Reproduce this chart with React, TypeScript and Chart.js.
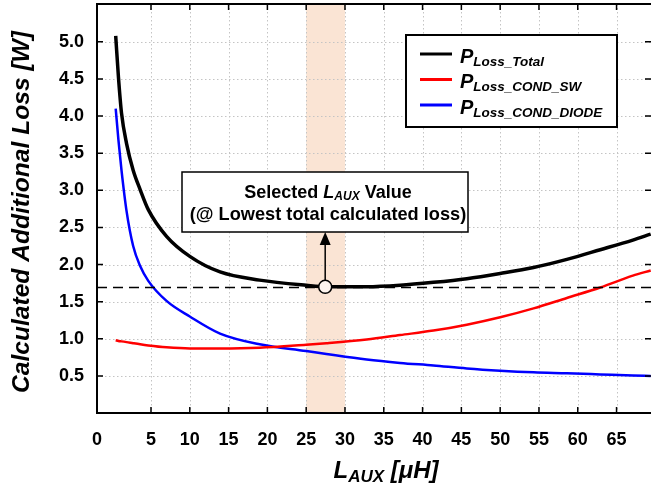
import React, { useEffect, useRef } from "react";
import { Chart, registerables } from "chart.js";

Chart.register(...registerables);

// ---------- data ----------
const L_AUX = [0.45, 0.8, 1.2, 1.85, 2.7, 3.6, 4.65, 7, 10, 13.9, 19, 25, 27.6, 32.8, 37.1, 41.4, 45.7, 50, 54.3, 58.6, 62.9, 67.1, 69.4];
const P_LOSS_TOTAL = [5.08, 4.53, 4.04, 3.63, 3.27, 3.01, 2.74, 2.38, 2.11, 1.9, 1.79, 1.72, 1.7, 1.7, 1.72, 1.76, 1.81, 1.88, 1.96, 2.07, 2.2, 2.33, 2.41];
const P_LOSS_COND_SW = [0.98, 0.97, 0.965, 0.955, 0.94, 0.925, 0.91, 0.885, 0.87, 0.87, 0.88, 0.92, 0.94, 0.99, 1.05, 1.11, 1.19, 1.29, 1.41, 1.55, 1.69, 1.85, 1.92];
const P_LOSS_COND_DIODE = [4.1, 3.68, 3.27, 2.72, 2.25, 1.98, 1.78, 1.51, 1.3, 1.07, 0.925, 0.835, 0.795, 0.72, 0.675, 0.64, 0.6, 0.57, 0.548, 0.535, 0.52, 0.505, 0.5];

const X_TICKS = [0, 5, 10, 15, 20, 25, 30, 35, 40, 45, 50, 55, 60, 65];
const Y_TICKS = [0.5, 1.0, 1.5, 2.0, 2.5, 3.0, 3.5, 4.0, 4.5, 5.0];
const X_MIN = -1.96;
const X_MAX = 69.44;
const Y_MIN = 0;
const Y_MAX = 5.51;

const SELECTED_BAND = [25, 30];
const SELECTED_L = 27.45;
const SELECTED_LOSS = 1.7;
const DASH_LEVEL = 1.69;

const FONT = '"Liberation Sans", Arial, Helvetica, sans-serif';

type Part = { t: string; size: number; italic?: boolean; dy?: number };

function fontOf(p: Part) {
  return `${p.italic ? "italic " : ""}bold ${p.size}px ${FONT}`;
}

function drawParts(ctx: CanvasRenderingContext2D, parts: Part[], x: number, y: number, align: "left" | "center") {
  let total = 0;
  for (const p of parts) {
    ctx.font = fontOf(p);
    total += ctx.measureText(p.t).width;
  }
  let cx = align === "center" ? x - total / 2 : x;
  ctx.textAlign = "left";
  ctx.textBaseline = "alphabetic";
  for (const p of parts) {
    ctx.font = fontOf(p);
    ctx.fillText(p.t, cx, y + (p.dy || 0));
    cx += ctx.measureText(p.t).width;
  }
}

const decorPlugin = {
  id: "decor",
  beforeDatasetsDraw(chart: any) {
    const ctx: CanvasRenderingContext2D = chart.ctx;
    const { left, right, top, bottom } = chart.chartArea;
    const xs = chart.scales.x;
    const ys = chart.scales.y;
    ctx.save();
    // selected band
    const b0 = xs.getPixelForValue(SELECTED_BAND[0]);
    const b1 = xs.getPixelForValue(SELECTED_BAND[1]);
    ctx.fillStyle = "#fae4d4";
    ctx.fillRect(b0, top, b1 - b0, bottom - top);
    // dotted grid
    ctx.strokeStyle = "#c4c4c4";
    ctx.lineWidth = 1;
    ctx.setLineDash([1.5, 2.5]);
    for (const v of X_TICKS) {
      if (v <= 0) continue;
      const px = Math.round(xs.getPixelForValue(v)) + 0.5;
      ctx.beginPath();
      ctx.moveTo(px, top);
      ctx.lineTo(px, bottom);
      ctx.stroke();
    }
    for (const v of Y_TICKS) {
      const py = Math.round(ys.getPixelForValue(v)) + 0.5;
      ctx.beginPath();
      ctx.moveTo(left, py);
      ctx.lineTo(right, py);
      ctx.stroke();
    }
    ctx.restore();
  },
  afterDatasetsDraw(chart: any) {
    const ctx: CanvasRenderingContext2D = chart.ctx;
    const { left, right, top, bottom } = chart.chartArea;
    const xs = chart.scales.x;
    const ys = chart.scales.y;
    ctx.save();

    // dashed minimum level
    const dy = ys.getPixelForValue(DASH_LEVEL);
    ctx.strokeStyle = "#000";
    ctx.lineWidth = 1.5;
    ctx.setLineDash([10, 6]);
    ctx.beginPath();
    ctx.moveTo(left, dy);
    ctx.lineTo(right, dy);
    ctx.stroke();
    ctx.setLineDash([]);

    // frame
    ctx.lineWidth = 2;
    ctx.beginPath();
    ctx.moveTo(right + 2, top);
    ctx.lineTo(left, top);
    ctx.lineTo(left, bottom);
    ctx.lineTo(right + 2, bottom);
    ctx.stroke();

    // inward ticks
    ctx.lineWidth = 1.5;
    for (const v of X_TICKS) {
      if (v <= 0) continue;
      const px = xs.getPixelForValue(v);
      ctx.beginPath();
      ctx.moveTo(px, top);
      ctx.lineTo(px, top + 6);
      ctx.moveTo(px, bottom);
      ctx.lineTo(px, bottom - 6);
      ctx.stroke();
    }
    for (const v of Y_TICKS) {
      const py = ys.getPixelForValue(v);
      ctx.beginPath();
      ctx.moveTo(left, py);
      ctx.lineTo(left + 6, py);
      ctx.moveTo(right, py);
      ctx.lineTo(right - 6, py);
      ctx.stroke();
    }

    // selected point marker + arrow
    const cx = xs.getPixelForValue(SELECTED_L);
    const cy = ys.getPixelForValue(SELECTED_LOSS);
    const r = 6.5;
    const boxL = 182, boxR = 468, boxT = 172, boxB = 232;
    ctx.lineWidth = 1.5;
    ctx.beginPath();
    ctx.moveTo(cx, cy - r);
    ctx.lineTo(cx, boxB + 12);
    ctx.stroke();
    ctx.fillStyle = "#000";
    ctx.beginPath();
    ctx.moveTo(cx, boxB);
    ctx.lineTo(cx - 5.5, boxB + 13);
    ctx.lineTo(cx + 5.5, boxB + 13);
    ctx.closePath();
    ctx.fill();
    ctx.fillStyle = "#fdf4ee";
    ctx.beginPath();
    ctx.arc(cx, cy, r, 0, Math.PI * 2);
    ctx.fill();
    ctx.stroke();

    // annotation box
    ctx.fillStyle = "#fff";
    ctx.fillRect(boxL, boxT, boxR - boxL, boxB - boxT);
    ctx.lineWidth = 1.5;
    ctx.strokeRect(boxL, boxT, boxR - boxL, boxB - boxT);
    ctx.fillStyle = "#000";
    const mid = (boxL + boxR) / 2 + 3;
    drawParts(ctx, [
      { t: "Selected ", size: 18 },
      { t: "L", size: 18, italic: true },
      { t: "AUX", size: 12, italic: true, dy: 2.5 },
      { t: " Value", size: 18 },
    ], mid, 197.5, "center");
    drawParts(ctx, [{ t: "(@ Lowest total calculated loss)", size: 18.2 }], (boxL + boxR) / 2 + 3, 219.5, "center");

    // legend
    const lgL = 406, lgR = 617, lgT = 35, lgB = 127;
    ctx.fillStyle = "#fff";
    ctx.fillRect(lgL, lgT, lgR - lgL, lgB - lgT);
    ctx.strokeStyle = "#000";
    ctx.lineWidth = 2;
    ctx.strokeRect(lgL, lgT, lgR - lgL, lgB - lgT);
    const items = [
      { sub: "Loss_Total", color: "#000000" },
      { sub: "Loss_COND_SW", color: "#ff0000" },
      { sub: "Loss_COND_DIODE", color: "#0000ff" },
    ];
    items.forEach((it, i) => {
      const ly = 54 + i * 25.5;
      ctx.strokeStyle = it.color;
      ctx.lineWidth = 3;
      ctx.beginPath();
      ctx.moveTo(420, ly);
      ctx.lineTo(452, ly);
      ctx.stroke();
      ctx.fillStyle = "#000";
      drawParts(ctx, [
        { t: "P", size: 20, italic: true },
        { t: it.sub, size: 13.5, italic: true, dy: 3 },
      ], 460, ly + 8.5, "left");
    });

    // x title
    ctx.fillStyle = "#000";
    drawParts(ctx, [
      { t: "L", size: 24, italic: true },
      { t: "AUX", size: 17, italic: true, dy: 4 },
      { t: " [\u03bcH]", size: 24, italic: true },
    ], 386, 478, "center");

    // y title (rotated)
    ctx.save();
    ctx.translate(22, 212);
    ctx.rotate(-Math.PI / 2);
    ctx.font = `italic bold 24px ${FONT}`;
    const yt = "Calculated Additional Loss [W]";
    const w = ctx.measureText(yt).width;
    const target = 362;
    ctx.scale(target / w, 1);
    ctx.textAlign = "center";
    ctx.textBaseline = "middle";
    ctx.fillText(yt, 0, 0);
    ctx.restore();

    ctx.restore();
  },
};

export default function App() {
  const ref = useRef<HTMLCanvasElement | null>(null);
  useEffect(() => {
    if (!ref.current) return;
    const mk = (ys: number[]) => L_AUX.map((x, i) => ({ x, y: ys[i] }));
    const chart = new Chart(ref.current, {
      type: "line",
      data: {
        datasets: [
          { label: "P_Loss_Total", data: mk(P_LOSS_TOTAL), borderColor: "#000000", borderWidth: 3.5, pointRadius: 0, cubicInterpolationMode: "monotone", fill: false },
          { label: "P_Loss_COND_SW", data: mk(P_LOSS_COND_SW), borderColor: "#ff0000", borderWidth: 2.5, pointRadius: 0, cubicInterpolationMode: "monotone", fill: false },
          { label: "P_Loss_COND_DIODE", data: mk(P_LOSS_COND_DIODE), borderColor: "#0000ff", borderWidth: 2.5, pointRadius: 0, cubicInterpolationMode: "monotone", fill: false },
        ],
      },
      options: {
        animation: false,
        responsive: false,
        devicePixelRatio: 1,
        layout: { padding: { top: 4, right: 0, bottom: 0, left: 0 } },
        plugins: { legend: { display: false }, tooltip: { enabled: false } },
        scales: {
          x: {
            type: "linear",
            min: X_MIN,
            max: X_MAX,
            grid: { display: false, drawTicks: false },
            border: { display: false },
            afterBuildTicks: (s: any) => {
              s.ticks = X_TICKS.map((v) => ({ value: v === 0 ? X_MIN : v }));
            },
            afterFit: (s: any) => {
              s.height = 78;
              s.paddingLeft = 0;
              s.paddingRight = 0;
            },
            ticks: {
              autoSkip: false,
              maxRotation: 0,
              padding: 16,
              color: "#000",
              font: { family: FONT, size: 18, weight: "bold" },
              callback: (v: any) => (v < 0 ? "0" : String(v)),
            },
          },
          y: {
            type: "linear",
            min: Y_MIN,
            max: Y_MAX,
            grid: { display: false, drawTicks: false },
            border: { display: false },
            afterBuildTicks: (s: any) => {
              s.ticks = Y_TICKS.map((v) => ({ value: v }));
            },
            afterFit: (s: any) => {
              s.width = 97;
              s.paddingTop = 0;
              s.paddingBottom = 0;
            },
            ticks: {
              padding: 13,
              color: "#000",
              font: { family: FONT, size: 18, weight: "bold" },
              callback: (v: any) => Number(v).toFixed(1),
            },
          },
        },
      },
      plugins: [decorPlugin],
    } as any);
    return () => chart.destroy();
  }, []);
  return (
    <div style={{ position: "fixed", left: 0, top: 0, width: 651, height: 491, background: "#fff" }}>
      <canvas ref={ref} width={651} height={491} />
    </div>
  );
}
